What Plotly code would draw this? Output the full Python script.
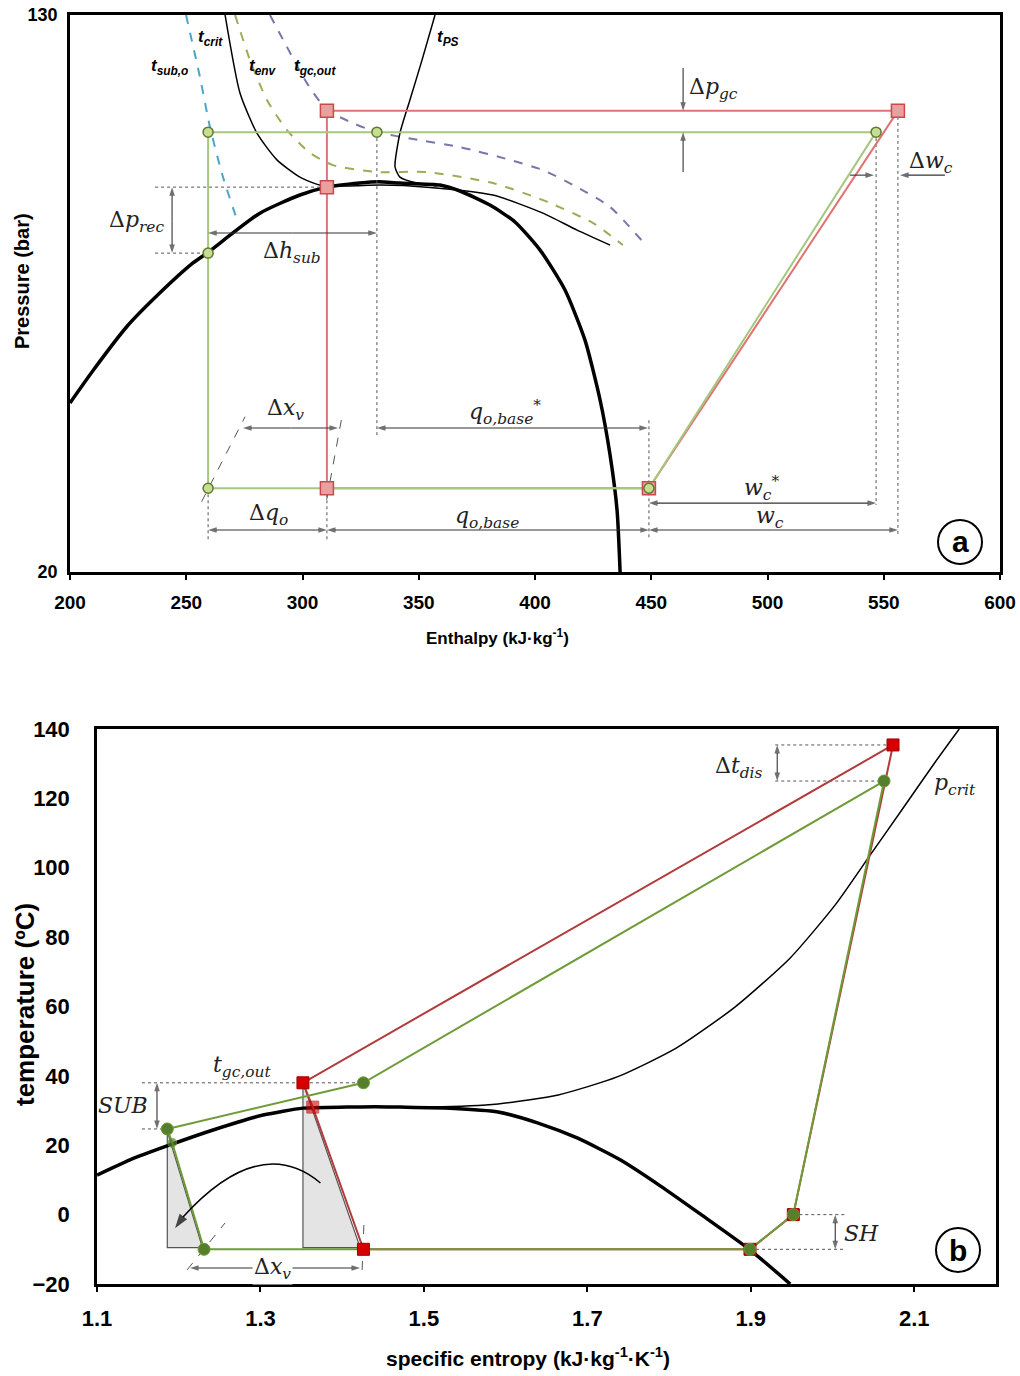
import math
import plotly.graph_objects as go

# ================= (a) pressure - enthalpy =================
dome_h = [200, 210.0, 224.4, 238.7, 252.9, 258.9, 281.7, 298.9, 310.5, 324.7, 332.5, 341.9, 359.1, 367.7, 380.6, 391.4, 402.2, 412.9, 421.5, 428.0, 432.3, 435.3, 436.6]
dome_p = [35.3, 39.4, 45.6, 51.1, 56.5, 58.4, 66.8, 71.0, 72.9, 73.9, 74.2, 73.9, 73.4, 71.96, 68.63, 64.85, 59.0, 51.6, 43.6, 35.65, 29.6, 24.6, 20.0]

tcrit_h = [266.7, 273.1, 280.4, 289.0, 298.9, 307.5, 320.0, 333.3, 353.5, 381.9, 403.4, 418.1, 432.3]
tcrit_p = [130, 100.0, 87.4, 79.9, 75.4, 73.4, 73.2, 73.4, 72.9, 71.0, 66.8, 63.1, 60.0]

tps_h = [357.0, 351.4, 346.2, 341.9, 339.8, 341.9, 349.2, 357.8]
tps_p = [130, 111.7, 97.7, 87.4, 78.0, 75.4, 73.9, 73.2]

tsub_h = [249.9, 255.9, 260.2, 265.8, 272.3]
tsub_p = [130, 105.5, 89.2, 75.4, 64.6]

tenv_h = [271.0, 277.4, 284.7, 293.3, 303.2, 313.1, 332.0, 353.5, 381.9, 403.4, 425.0, 437.8]
tenv_p = [130, 111.7, 97.7, 88.3, 81.8, 78.5, 76.7, 76.7, 73.9, 69.8, 64.6, 60.0]

tgc_h = [286.0, 293.3, 301.9, 310.5, 321.7, 332.0, 347.5, 367.7, 389.2, 403.4, 418.1, 432.3, 447.3]
tgc_p = [130, 116.8, 103.4, 94.5, 90.4, 87.7, 85.7, 83.4, 79.9, 77.2, 72.9, 68.2, 60.2]

green_h = [546.7, 332.0, 259.4, 259.4, 259.4, 449.0, 546.7]
green_p = [87.7, 87.7, 87.7, 58.4, 26.5, 26.5, 87.7]
red_h = [556.1, 310.5, 310.5, 310.5, 449.0, 556.1]
red_p = [94.2, 94.2, 72.9, 26.5, 26.5, 94.2]

gm_h = [259.4, 332.0, 546.7, 259.4, 259.4, 449.0]
gm_p = [87.7, 87.7, 87.7, 58.4, 26.5, 26.5]
rm_h = [310.5, 556.1, 310.5, 310.5, 449.0]
rm_p = [94.2, 94.2, 72.9, 26.5, 26.5]

ph_xticks = [200, 250, 300, 350, 400, 450, 500, 550, 600]
ph_yticks = [20, 130]

# ================= (b) temperature - entropy =================
tsd_s = [1.1, 1.1404, 1.1857, 1.242, 1.3032, 1.3521, 1.406, 1.44, 1.4709, 1.532, 1.5908, 1.6398, 1.6875, 1.7401, 1.7891, 1.838, 1.8993, 1.9482]
tsd_T = [11.4, 15.8, 19.8, 24.4, 28.7, 30.7, 31.0, 31.1, 31.0, 30.7, 29.6, 26.4, 22.1, 15.8, 8.3, 0.2, -10.2, -20]

pc_s = [1.45, 1.5088, 1.5908, 1.6643, 1.7365, 1.8087, 1.8809, 1.9482, 2.0033, 2.0462, 2.0890, 2.1257, 2.1550]
pc_T = [31.05, 31.0, 31.9, 34.5, 39.7, 48.0, 59.9, 74.0, 89.3, 103.7, 118.1, 130.5, 140.0]

red_s = [1.952, 2.074, 1.352, 1.364, 1.426, 1.899, 1.952]
red_T = [0, 135.4, 38, 31, -10, -10, 0]
green_s = [1.952, 2.063, 1.426, 1.186, 1.192, 1.231, 1.899, 1.952]
green_T = [0, 125, 38, 24.7, 20.7, -10, -10, 0]

rmb_s = [2.074, 1.352, 1.426, 1.899, 1.952]
rmb_T = [135.4, 38, -10, -10, 0]
gmb_s = [2.063, 1.426, 1.186, 1.231, 1.899, 1.952]
gmb_T = [125, 38, 24.7, -10, -10, 0]

triL_s = [1.186, 1.186, 1.229, 1.186]
triL_T = [24.0, -9.5, -9.5, 24.0]
triR_s = [1.352, 1.352, 1.422, 1.352]
triR_T = [38.0, -9.5, -9.5, 38.0]

ts_xticks = [1.1, 1.3, 1.5, 1.7, 1.9, 2.1]
ts_yticks = [-20, 0, 20, 40, 60, 80, 100, 120, 140]

# ============================================================
fig = go.Figure()

def axes(ax):
    return ('x', 'y') if ax == 'a' else ('x2', 'y2')

def line(x, y, color, width, dash=None, ax='a', shape='spline', smoothing=0.6):
    xa, ya = axes(ax)
    fig.add_trace(go.Scatter(x=x, y=y, mode='lines', xaxis=xa, yaxis=ya,
                             line=dict(color=color, width=width, dash=dash, shape=shape, smoothing=smoothing),
                             hoverinfo='skip', showlegend=False))

def segs(pairs, color='#555', width=1, dash='dot', ax='a'):
    xs, ys = [], []
    for (x0, y0, x1, y1) in pairs:
        xs += [x0, x1, None]
        ys += [y0, y1, None]
    line(xs, ys, color, width, dash, ax, shape='linear')

def head(xt, yt, xh, yh, ax, size=9, color='#333', width=1.1):
    xa, ya = axes(ax)
    fig.add_trace(go.Scatter(x=[xt, xh], y=[yt, yh], mode='lines+markers', xaxis=xa, yaxis=ya,
                             line=dict(color=color, width=width),
                             marker=dict(symbol='arrow', size=[0, size], color=color, angleref='previous',
                                         line=dict(width=0)),
                             hoverinfo='skip', showlegend=False))

def arrow(x0, y0, x1, y1, ax, both=False, log=False):
    # arrow pointing at (x0, y0) from (x1, y1); double-headed if both
    if both:
        ym = math.sqrt(y0 * y1) if log else (y0 + y1) / 2
        xm = (x0 + x1) / 2
        head(xm, ym, x0, y0, ax)
        head(xm, ym, x1, y1, ax)
    else:
        head(x1, y1, x0, y0, ax)

# ---- top curves
line(tsub_h, tsub_p, '#4aa6c9', 2, 'dash')
line(tenv_h, tenv_p, '#9dac55', 2, 'dash')
line(tgc_h, tgc_p, '#7777aa', 2, 'dash')
line(tcrit_h, tcrit_p, 'black', 1.5)
line(tps_h, tps_p, 'black', 1.5)
line(dome_h, dome_p, 'black', 3.5)

segs([(236.6, 72.9, 310.5, 72.9), (236.6, 58.4, 259.4, 58.4), (332.0, 87.7, 332.0, 31.4),
      (546.7, 87.7, 546.7, 25.05), (556.1, 94.2, 556.1, 22.65), (449.0, 33.3, 449.0, 22.3),
      (259.4, 26.5, 259.4, 22.3), (310.5, 26.5, 310.5, 22.3)])
segs([(256.6, 25.33, 275.3, 33.7), (310.4, 25.5, 317.1, 33.9)], dash='dash')

line(red_h, red_p, '#e07474', 2, shape='linear')
line(green_h, green_p, '#a6c77e', 2, shape='linear')

# top arrows
arrow(463.7, 94.2, 463.7, 108.8, 'a', log=True)
arrow(463.7, 87.7, 463.7, 76.7, 'a', log=True)
arrow(545.8, 75.9, 535.5, 75.9, 'a', log=True)
arrow(557.0, 75.9, 576.3, 75.9, 'a', log=True)
arrow(243.9, 72.9, 243.9, 58.4, 'a', both=True, log=True)
arrow(259.4, 62.5, 332.0, 62.5, 'a', both=True, log=True)
arrow(274.4, 32.45, 315.3, 32.45, 'a', both=True, log=True)
arrow(332.0, 32.45, 448.6, 32.45, 'a', both=True, log=True)
arrow(259.4, 23.03, 310.5, 23.03, 'a', both=True, log=True)
arrow(310.5, 23.03, 449.0, 23.03, 'a', both=True, log=True)
arrow(449.0, 25.21, 546.7, 25.21, 'a', both=True, log=True)
arrow(449.0, 23.03, 556.1, 23.03, 'a', both=True, log=True)

fig.add_trace(go.Scatter(x=rm_h, y=rm_p, mode='markers', xaxis='x', yaxis='y', hoverinfo='skip',
                         marker=dict(symbol='square', size=13, color='#e9a0a0', line=dict(color='#c84a4a', width=1.5))))
fig.add_trace(go.Scatter(x=gm_h, y=gm_p, mode='markers', xaxis='x', yaxis='y', hoverinfo='skip',
                         marker=dict(symbol='circle', size=10, color='#c8dd93', line=dict(color='#5b7b2e', width=1.5))))

# ---- bottom curves
fig.add_trace(go.Scatter(x=triL_s, y=triL_T, mode='lines', xaxis='x2', yaxis='y2', fill='toself',
                         fillcolor='#e4e4e4', line=dict(color='#555', width=1.2), hoverinfo='skip'))
fig.add_trace(go.Scatter(x=triR_s, y=triR_T, mode='lines', xaxis='x2', yaxis='y2', fill='toself',
                         fillcolor='#e4e4e4', line=dict(color='#555', width=1.2), hoverinfo='skip'))
line(tsd_s, tsd_T, 'black', 3.5, ax='b')
line(pc_s, pc_T, 'black', 1.5, ax='b')
segs([(1.9299, 135.4, 2.074, 135.4), (1.9299, 125, 2.063, 125), (1.155, 38, 1.426, 38),
      (1.155, 24.7, 1.186, 24.7), (1.952, 0, 2.0155, 0), (1.899, -10, 2.0155, -10)], ax='b')
segs([(1.2102, -15.95, 1.2567, -2.4), (1.4244, -15.95, 1.4268, -1.5)], dash='dash', ax='b')
line(red_s, red_T, '#b23b3b', 2, ax='b', shape='linear')
line(green_s, green_T, '#6f9c38', 2, ax='b', shape='linear')

arrow(1.9323, 135.4, 1.9323, 125, 'b', both=True)
arrow(1.1734, 38, 1.1734, 24.7, 'b', both=True)
arrow(2.0033, 0, 2.0033, -10, 'b', both=True)
arrow(1.2138, -15.4, 1.4219, -15.4, 'b', both=True)

fig.add_trace(go.Scatter(x=rmb_s, y=rmb_T, mode='markers', xaxis='x2', yaxis='y2', hoverinfo='skip',
                         marker=dict(symbol='square', size=12, color='#d40000', line=dict(color='#a00000', width=1))))
fig.add_trace(go.Scatter(x=[1.364], y=[31], mode='markers', xaxis='x2', yaxis='y2', hoverinfo='skip', opacity=0.6,
                         marker=dict(symbol='square', size=12, color='#d40000', line=dict(color='#a00000', width=1))))
fig.add_trace(go.Scatter(x=gmb_s, y=gmb_T, mode='markers', xaxis='x2', yaxis='y2', hoverinfo='skip',
                         marker=dict(symbol='circle', size=12, color='#557f2a', line=dict(color='#6a9a35', width=1))))
fig.add_trace(go.Scatter(x=[1.192], y=[20.7], mode='markers', xaxis='x2', yaxis='y2', hoverinfo='skip', opacity=0.7,
                         marker=dict(symbol='circle', size=9, color='#557f2a', line=dict(color='#6a9a35', width=1))))

# curved arrow head (bottom)
head(1.2053, -0.67, 1.1955, -3.9, 'b', size=15, color='black', width=1.5)

# ---- annotations
ann = []
shapes = []
LG = math.log10

def label(x, y, text, ref, anchor='center', size=22, log=False, fam='DejaVu Serif', bg=None, color='#222'):
    xr, yr = axes(ref)
    if log:
        y = LG(y)
    d = dict(x=x, y=y, xref=xr, yref=yr, text=text, showarrow=False, xanchor=anchor, yanchor='middle',
             font=dict(family=fam, size=size, color=color))
    if bg:
        d['bgcolor'] = bg
    ann.append(d)

label(465.5, 101.7, 'Δ<i>p<sub>gc</sub></i>', 'a', 'left', log=True)
label(560.0, 79.1, 'Δ<i>w<sub>c</sub></i>', 'a', 'left', log=True)
label(241.5, 64.85, 'Δ<i>p<sub>rec</sub></i>', 'a', 'right', log=True)
label(295.5, 58.6, 'Δ<i>h<sub>sub</sub></i>', 'a', log=True)
label(292.5, 34.5, 'Δ<i>x<sub>v</sub></i>', 'a', log=True)
label(387.1, 34.2, '<i>q<sub>o,base</sub></i><sup>*</sup>', 'a', log=True)
label(285.2, 24.23, 'Δ<i>q<sub>o</sub></i>', 'a', log=True)
label(379.4, 23.99, '<i>q<sub>o,base</sub></i>', 'a', log=True)
label(497.6, 26.5, '<i>w<sub>c</sub></i><sup>*</sup>', 'a', log=True)
label(501.1, 23.99, '<i>w<sub>c</sub></i>', 'a', log=True)

for (hx, py, t) in [(243.0, 109.1, 'sub,o'), (260.6, 120.4, 'crit'), (283.0, 109.1, 'env'),
                    (305.4, 109.1, 'gc,out'), (362.4, 120.4, 'PS')]:
    label(hx, py, '<b><i>t<sub>%s</sub></i></b>' % t, 'a', size=17, log=True, fam='Liberation Sans', color='black')

label(1.9176, 129, 'Δ<i>t<sub>dis</sub></i>', 'b', 'right')
label(2.122, 123.9, '<i>p<sub>crit</sub></i>', 'b', 'left')
label(1.2775, 42.6, '<i>t<sub>gc,out</sub></i>', 'b')
label(1.1649, 31.6, '<i>SUB</i>', 'b', 'right')
label(2.0119, -5.3, '<i>SH</i>', 'b', 'left')
label(1.3142, -15.4, 'Δ<i>x<sub>v</sub></i>', 'b', bg='white')

# curved arrow body (bottom)
shapes.append(dict(type='path', xref='x2', yref='y2', path='M 1.3734,9.13 Q 1.2995,23.7 1.2053,-0.67',
                   line=dict(color='black', width=1.5)))

# circled letters
for (px, py, t) in [(960, 542, 'a'), (958, 1250, 'b')]:
    shapes.append(dict(type='circle', xref='paper', yref='paper', xsizemode='pixel', ysizemode='pixel',
                       xanchor=px / 1020, yanchor=1 - py / 1376, x0=-22, x1=22, y0=-22, y1=22,
                       line=dict(color='black', width=2), fillcolor='white'))
    ann.append(dict(x=px / 1020, y=1 - py / 1376, xref='paper', yref='paper', text='<b>%s</b>' % t,
                    xanchor='center', yanchor='middle',
                    showarrow=False, font=dict(family='Liberation Sans', size=30, color='black')))

# axis titles
def title(px, py, text, size, angle=0):
    ann.append(dict(x=px / 1020, y=1 - py / 1376, xref='paper', yref='paper', text=text,
                    textangle=angle, xanchor='center', yanchor='middle', showarrow=False,
                    font=dict(family='Liberation Sans', size=size, color='black')))

title(22, 281, '<b>Pressure (bar)</b>', 20, -90)
title(497, 637, '<b>Enthalpy (kJ·kg<sup>-1</sup>)</b>', 17)
title(25, 1005, '<b>temperature (ºC)</b>', 26, -90)
title(528, 1357, '<b>specific entropy (kJ·kg<sup>-1</sup>·K<sup>-1</sup>)</b>', 21)

axcommon = dict(showline=True, mirror=True, linecolor='black', linewidth=2.5, showgrid=False, zeroline=False)
fig.update_layout(
    width=1020, height=1376, margin=dict(l=0, r=0, t=0, b=0, autoexpand=False),
    paper_bgcolor='white', plot_bgcolor='white', showlegend=False,
    xaxis=dict(domain=[70 / 1020, 1000 / 1020], range=[200, 600], tickvals=ph_xticks,
               ticks='outside', ticklen=5, tickwidth=1.5, tickcolor='black', ticklabelstandoff=6,
               tickfont=dict(family='Liberation Sans', size=19, color='black', weight='bold'), **axcommon),
    yaxis=dict(domain=[1 - 572 / 1376, 1 - 15 / 1376], type='log', range=[LG(20), LG(130)],
               tickvals=ph_yticks, ticktext=[str(v) for v in ph_yticks], ticks='', ticklabelstandoff=6,
               tickfont=dict(family='Liberation Sans', size=18, color='black', weight='bold'), **axcommon),
    xaxis2=dict(domain=[97 / 1020, 996 / 1020], range=[1.1, 2.2], tickvals=ts_xticks,
                ticktext=['%.1f' % v for v in ts_xticks], anchor='y2',
                ticks='outside', ticklen=5, tickwidth=1.5, tickcolor='black', ticklabelstandoff=8,
                tickfont=dict(family='Liberation Sans', size=22, color='black', weight='bold'), **axcommon),
    yaxis2=dict(domain=[1 - 1284 / 1376, 1 - 729 / 1376], range=[-20, 140], tickvals=ts_yticks, anchor='x2',
                ticks='', ticklabelstandoff=20,
                tickfont=dict(family='Liberation Sans', size=22, color='black', weight='bold'), **axcommon),
    annotations=ann, shapes=shapes,
)

fig.write_html("out.html", config={'displayModeBar': False},
               post_script="document.body.style.margin='0px';")
